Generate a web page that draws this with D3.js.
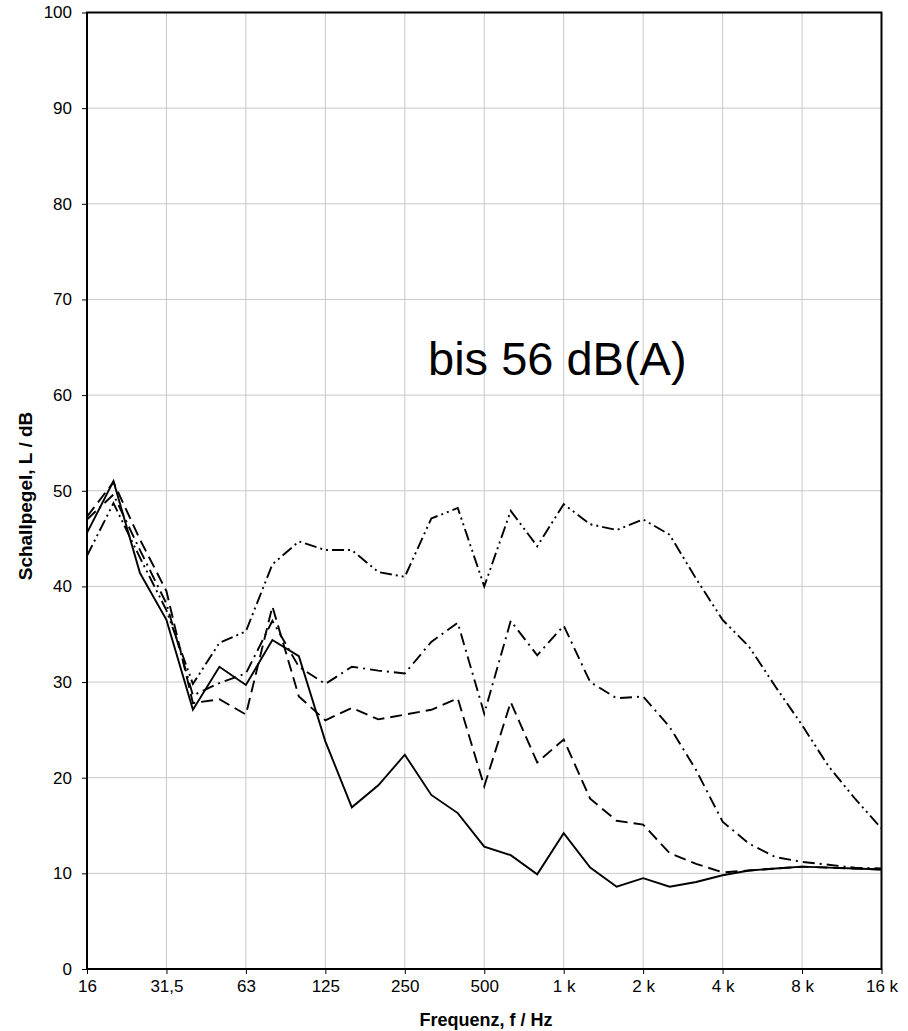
<!DOCTYPE html>
<html>
<head>
<meta charset="utf-8">
<script src="https://cdn.jsdelivr.net/npm/d3@7"></script>
<style>
  body { margin: 0; background: #fff; }
  svg { display: block; font-family: "Liberation Sans", Arial, sans-serif; }
  .grid line { stroke: #c8c8c8; stroke-width: 1; }
  .axis path { display: none; }
  .axis line { stroke: #000; }
  .axis text { font-size: 17px; fill: #000; }
</style>
</head>
<body>
<svg id="chart" width="908" height="1031"></svg>
<script>
// third-octave band centres (x categories)
const bands = ["16","20","25","31.5","40","50","63","80","100","125","160","200","250","315","400",
  "500","630","800","1000","1250","1600","2000","2500","3150","4000","5000","6300","8000","10000","12500","16000"];
// octave bands that get a tick label
const octaveBands = ["16","31.5","63","125","250","500","1000","2000","4000","8000","16000"];
const octaveLabels = ["16","31,5","63","125","250","500","1 k","2 k","4 k","8 k","16 k"];
const yTicks = [0,10,20,30,40,50,60,70,80,90,100];

// sound level per band, dB
const solid =        [45.6,51.0,41.4,36.5,27.1,31.6,29.7,34.4,32.7,23.8,16.9,19.2,22.4,18.2,16.3,12.8,11.9,9.9,14.2,10.6,8.6,9.5,8.6,9.1,9.8,10.3,10.5,10.7,10.6,10.5,10.4];
const dashed =       [47.3,50.9,44.9,39.5,27.8,28.2,26.6,37.9,28.5,26.0,27.3,26.1,26.6,27.1,28.3,19.1,27.9,21.6,24.0,17.8,15.5,15.1,12.1,11.0,10.1,10.3,10.5,10.7,10.6,10.5,10.4];
const dashDot =      [47.0,49.6,43.8,38.2,28.6,29.9,30.9,36.4,31.6,29.8,31.6,31.2,30.9,34.2,36.2,26.7,36.4,32.8,35.9,30.0,28.3,28.5,25.3,20.8,15.4,13.1,11.7,11.2,10.9,10.6,10.5];
const dashDotDot =   [43.2,48.7,43.0,37.5,29.8,34.1,35.3,42.3,44.7,43.8,43.8,41.5,41.0,47.1,48.2,40.0,47.9,44.2,48.6,46.5,45.9,47.0,45.4,40.8,36.5,33.7,29.5,25.5,21.2,17.8,14.7];

const series = [
  {values: solid, dash: null},
  {values: dashed, dash: "12,6"},
  {values: dashDot, dash: "12,5,2,5"},
  {values: dashDotDot, dash: "12,4,2,4,2,4"}
];

const m = {left: 87, right: 881.5, top: 12.5, bottom: 969};
const svg = d3.select("#chart");

const x = d3.scalePoint().domain(bands).range([m.left, m.right]);
const y = d3.scaleLinear().domain([0, 100]).range([m.bottom, m.top]);

// grid
svg.append("g").attr("class", "grid")
  .selectAll("line").data(yTicks.slice(1, -1)).join("line")
  .attr("x1", m.left).attr("x2", m.right)
  .attr("y1", d => y(d)).attr("y2", d => y(d));
svg.append("g").attr("class", "grid")
  .selectAll("line").data(octaveBands.slice(1, -1)).join("line")
  .attr("x1", d => x(d)).attr("x2", d => x(d))
  .attr("y1", m.top).attr("y2", m.bottom);

// axes
svg.append("g").attr("class", "axis")
  .attr("transform", `translate(${m.left},0)`)
  .call(d3.axisLeft(y).tickValues(yTicks).tickSize(5).tickPadding(10));
svg.append("g").attr("class", "axis")
  .attr("transform", `translate(0,${m.bottom})`)
  .call(d3.axisBottom(x).tickValues(octaveBands).tickSize(5).tickPadding(6)
    .tickFormat((d, i) => octaveLabels[i]));

// frame
svg.append("rect")
  .attr("x", m.left).attr("y", m.top)
  .attr("width", m.right - m.left).attr("height", m.bottom - m.top)
  .attr("fill", "none").attr("stroke", "#000").attr("stroke-width", 2);

// lines
const line = d3.line().x((d, i) => x(bands[i])).y(d => y(d));
svg.append("g").selectAll("path").data(series).join("path")
  .attr("d", d => line(d.values))
  .attr("fill", "none")
  .attr("stroke", "#000")
  .attr("stroke-width", 1.9)
  .attr("stroke-dasharray", d => d.dash);

// annotation
svg.append("text")
  .attr("x", 428).attr("y", 375)
  .attr("font-size", 47)
  .text("bis 56 dB(A)");

// axis titles
svg.append("text")
  .attr("x", 486).attr("y", 1026)
  .attr("text-anchor", "middle")
  .attr("font-size", 18).attr("font-weight", "bold")
  .text("Frequenz, f / Hz");
svg.append("text")
  .attr("transform", "translate(32,496) rotate(-90)")
  .attr("text-anchor", "middle")
  .attr("font-size", 19).attr("font-weight", "bold")
  .text("Schallpegel, L / dB");
</script>
</body>
</html>
